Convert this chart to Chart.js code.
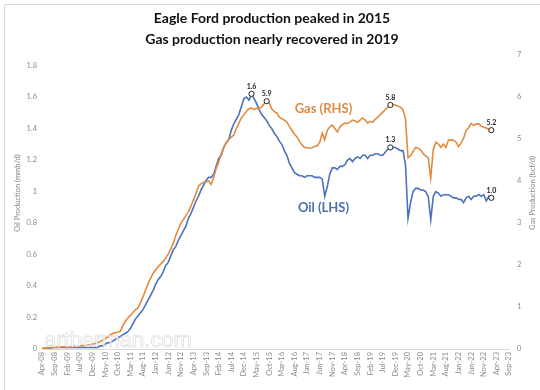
<!DOCTYPE html>
<html>
<head>
<meta charset="utf-8">
<script src="https://cdn.jsdelivr.net/npm/chart.js@4"></script>
<style>
  html, body { margin: 0; padding: 0; background: #fff; }
  #wrap { width: 540px; height: 390px; position: relative; }
</style>
</head>
<body>
<div id="wrap"><canvas id="graph"></canvas></div>
<script>
// monthly categories Apr-08 .. Sep-23
var monthNames = ['Jan','Feb','Mar','Apr','May','Jun','Jul','Aug','Sep','Oct','Nov','Dec'];
var months = [];
for (var yr = 2008; yr <= 2023; yr++) {
  for (var m = 0; m < 12; m++) {
    if ((yr === 2008 && m < 3) || (yr === 2023 && m > 8)) continue;
    months.push(monthNames[m] + '-' + String(yr).slice(2));
  }
}

// oil, mmb/d (left axis), Apr-08 .. Feb-23
var oil = [
  0.00,0.00,0.00,0.00,0.01,0.01,0.01,0.01,0.01,0.01,0.01,0.01,0.01,0.01,0.01,
  0.01,0.01,0.01,0.01,0.01,0.01,0.01,0.01,0.02,0.02,
  0.03,0.04,0.04,0.05,0.06,0.07,0.08,0.09,0.10,0.11,
  0.13,0.16,0.19,0.21,0.23,0.25,0.28,0.31,0.34,0.37,
  0.41,0.44,0.46,0.49,0.53,0.55,0.59,0.63,0.65,0.69,
  0.72,0.75,0.78,0.83,0.86,0.90,0.94,0.97,1.01,1.04,
  1.07,1.09,1.09,1.11,1.16,1.21,1.23,1.28,1.31,1.33,
  1.39,1.43,1.46,1.49,1.54,1.59,1.60,1.58,1.62,1.59,
  1.56,1.52,1.49,1.47,1.45,1.42,1.40,1.37,1.35,1.32,
  1.30,1.26,1.23,1.18,1.15,1.12,1.11,1.10,1.10,1.09,
  1.10,1.10,1.10,1.09,1.09,1.09,1.08,0.97,1.03,1.11,
  1.15,1.15,1.14,1.16,1.16,1.17,1.20,1.21,1.19,1.21,
  1.22,1.21,1.23,1.23,1.21,1.23,1.23,1.24,1.24,1.23,
  1.23,1.25,1.27,1.28,1.28,1.28,1.27,1.26,1.26,1.17,
  0.83,0.93,1.00,1.02,1.02,1.01,1.01,1.00,0.97,0.82,
  0.97,1.00,0.99,0.97,0.98,0.98,0.98,0.97,0.96,0.96,
  0.95,0.95,0.93,0.96,0.97,0.95,0.97,0.97,0.98,0.97,
  0.98,0.94,0.97,0.96
];

// gas, bcf/d (right axis), Apr-08 .. Feb-23
var gas = [
  0.02,0.02,0.03,0.03,0.03,0.04,0.04,0.04,0.05,0.05,0.05,0.05,0.05,0.06,0.06,
  0.07,0.08,0.08,0.09,0.10,0.11,0.13,0.15,0.17,0.21,
  0.24,0.28,0.33,0.37,0.39,0.40,0.42,0.55,0.66,0.74,
  0.80,0.87,0.93,0.98,1.10,1.24,1.40,1.55,1.68,1.80,
  1.88,1.96,2.02,2.08,2.17,2.26,2.38,2.52,2.70,2.85,
  2.99,3.08,3.17,3.27,3.40,3.55,3.70,3.88,3.93,3.97,
  3.98,4.00,3.92,4.08,4.30,4.45,4.65,4.80,4.92,5.00,
  5.04,5.10,5.25,5.38,5.50,5.58,5.66,5.72,5.74,5.70,
  5.73,5.72,5.76,5.84,5.90,5.86,5.72,5.65,5.62,5.52,
  5.48,5.45,5.40,5.30,5.20,5.12,5.05,4.95,4.86,4.80,
  4.79,4.78,4.79,4.82,4.84,4.92,5.14,4.98,5.20,5.29,
  5.33,5.25,5.17,5.29,5.34,5.38,5.37,5.40,5.45,5.43,
  5.40,5.45,5.50,5.45,5.38,5.42,5.40,5.47,5.52,5.58,
  5.64,5.70,5.76,5.81,5.82,5.81,5.78,5.76,5.70,5.48,
  4.55,4.60,4.70,4.80,4.78,4.74,4.65,4.60,4.55,4.07,
  4.75,4.92,4.88,4.80,4.88,4.80,4.97,4.98,4.97,4.93,
  4.82,4.90,5.02,5.20,5.27,5.37,5.32,5.36,5.36,5.31,
  5.28,5.26,5.23,5.21
];

var oilTicks = [0, 0.2, 0.4, 0.6, 0.8, 1, 1.2, 1.4, 1.6, 1.8];
var gasTicks = [0, 1, 2, 3, 4, 5, 6, 7];
var oilAxisMax = 1.867;
var gasAxisMax = 7;

// points that carry a circle marker and value label
var oilMarks = [83, 138, 178];
var gasMarks = [89, 138, 178];

var titleLines = ['Eagle Ford production peaked in 2015', 'Gas production nearly recovered in 2019'];
var seriesTags = [
  { text: 'Gas (RHS)', at: 111.5, value: 5.71, axis: 'yR', color: '#dd8a40' },
  { text: 'Oil (LHS)', at: 111.5, value: 0.895, axis: 'yL', color: '#4a70b3' }
];

var OIL_COLOR = '#4a72bd';
var GAS_COLOR = '#e48a3e';
var TICK_COLOR = '#8a8a8a';

Chart.defaults.font.family = "Lato, 'Liberation Sans', sans-serif";

function markRadius(marks) {
  return function (c) { return marks.indexOf(c.dataIndex) >= 0 ? 2.6 : 0; };
}

var extras = {
  id: 'extras',
  beforeDraw: function (chart) {
    var ctx = chart.ctx;
    ctx.save();
    ctx.fillStyle = '#fff';
    ctx.fillRect(0, 0, chart.width, chart.height);
    ctx.strokeStyle = '#d9d9d9';
    ctx.lineWidth = 1;
    ctx.beginPath();
    ctx.moveTo(4.5, chart.height);
    ctx.lineTo(4.5, 4.5);
    ctx.lineTo(chart.width, 4.5);
    ctx.stroke();
    ctx.restore();
  },
  afterDatasetsDraw: function (chart) {
    var ctx = chart.ctx;
    var s = chart.scales;
    ctx.save();

    // faint watermark
    ctx.font = '22px "Liberation Sans", sans-serif';
    ctx.textAlign = 'left';
    ctx.textBaseline = 'alphabetic';
    ctx.fillStyle = 'rgba(255,255,255,0.75)';
    ctx.fillText('artberman.com', 44, 347);
    ctx.strokeStyle = 'rgba(185,185,185,0.55)';
    ctx.lineWidth = 0.7;
    ctx.strokeText('artberman.com', 44, 347);

    // value labels above marked points
    ctx.font = 'bold 7px Lato, sans-serif';
    ctx.fillStyle = '#222';
    ctx.textAlign = 'center';
    ctx.textBaseline = 'bottom';
    chart.data.datasets.forEach(function (ds, di) {
      var meta = chart.getDatasetMeta(di);
      ds.marks.forEach(function (idx) {
        var pt = meta.data[idx];
        ctx.fillText(ds.data[idx].toFixed(1), pt.x, pt.y - 4);
      });
    });

    // series tags
    ctx.font = 'bold 13px Lato, sans-serif';
    ctx.textBaseline = 'middle';
    seriesTags.forEach(function (t) {
      ctx.fillStyle = t.color;
      ctx.fillText(t.text, s.x.getPixelForValue(t.at), s[t.axis].getPixelForValue(t.value));
    });

    // axis titles, both reading bottom to top
    ctx.font = '7.5px Lato, sans-serif';
    ctx.fillStyle = TICK_COLOR;
    ctx.textBaseline = 'middle';
    [['Oil Production (mmb/d)', 18], ['Gas Production (bcf/d)', 533]].forEach(function (a) {
      ctx.save();
      ctx.translate(a[1], 193);
      ctx.rotate(-Math.PI / 2);
      ctx.fillText(a[0], 0, 0);
      ctx.restore();
    });
    ctx.restore();
  }
};

var graph = document.getElementById('graph').getContext('2d');
var myChart = new Chart(graph, {
  type: 'line',
  data: {
    labels: months,
    datasets: [{
      label: 'Gas (RHS)',
      data: gas,
      marks: gasMarks,
      yAxisID: 'yR',
      borderColor: GAS_COLOR,
      borderWidth: 1.6,
      pointRadius: markRadius(gasMarks),
      pointBackgroundColor: '#fff',
      pointBorderColor: '#222',
      pointBorderWidth: 1,
      tension: 0,
      order: 0
    }, {
      label: 'Oil (LHS)',
      data: oil,
      marks: oilMarks,
      yAxisID: 'yL',
      borderColor: OIL_COLOR,
      borderWidth: 1.6,
      pointRadius: markRadius(oilMarks),
      pointBackgroundColor: '#fff',
      pointBorderColor: '#222',
      pointBorderWidth: 1,
      tension: 0,
      order: 1
    }]
  },
  options: {
    responsive: true,
    maintainAspectRatio: false,
    animation: false,
    devicePixelRatio: 1,
    layout: { padding: { left: 4, right: 0, top: 0, bottom: 0 } },
    scales: {
      x: {
        grid: { display: false, drawTicks: false },
        border: { display: true, color: '#d9d9d9' },
        ticks: {
          autoSkip: false,
          maxRotation: 90,
          minRotation: 90,
          padding: 3,
          color: TICK_COLOR,
          font: { size: 7.5 },
          callback: function (v, i) { return i % 5 === 0 ? months[i] : null; }
        },
        afterFit: function (sc) { sc.height = 41; }
      },
      yL: {
        position: 'left',
        min: 0,
        max: oilAxisMax,
        bounds: 'data',
        grid: { display: false, drawTicks: false },
        border: { display: false },
        ticks: {
          padding: 5,
          color: TICK_COLOR,
          font: { size: 7.5 },
          callback: function (v) { return String(Math.round(v * 10) / 10); }
        },
        afterBuildTicks: function (sc) { sc.ticks = oilTicks.map(function (v) { return { value: v }; }); },
        afterFit: function (sc) { sc.width = 38; }
      },
      yR: {
        position: 'right',
        min: 0,
        max: gasAxisMax,
        bounds: 'data',
        grid: { display: false, drawTicks: false },
        border: { display: false },
        ticks: {
          padding: 8,
          color: TICK_COLOR,
          font: { size: 7.5 },
          callback: function (v) { return String(v); }
        },
        afterBuildTicks: function (sc) { sc.ticks = gasTicks.map(function (v) { return { value: v }; }); },
        afterFit: function (sc) { sc.width = 31; }
      }
    },
    plugins: {
      legend: { display: false },
      tooltip: { enabled: false },
      title: {
        display: true,
        text: titleLines,
        color: '#111',
        font: { size: 14, weight: 'bold', lineHeight: 1.5 },
        padding: { top: 8, bottom: 5 }
      }
    }
  },
  plugins: [extras]
});
</script>
</body>
</html>
